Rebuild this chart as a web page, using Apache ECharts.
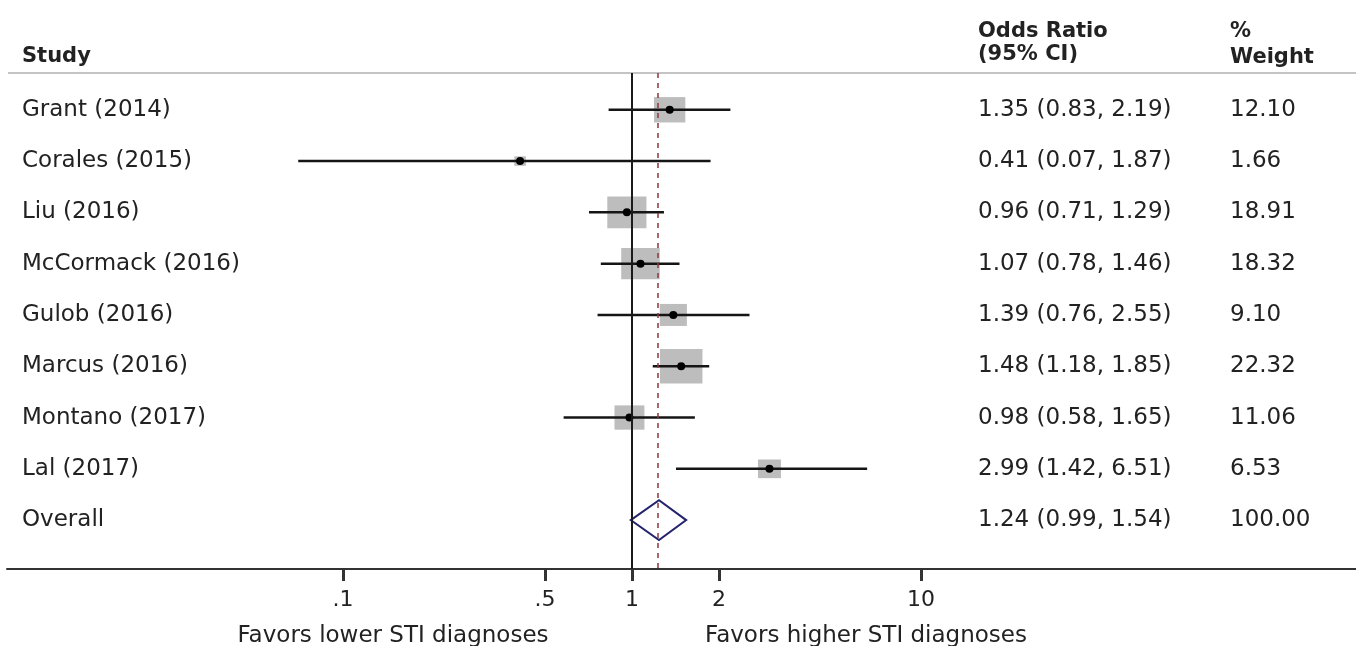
<!DOCTYPE html>
<html>
<head>
<meta charset="utf-8">
<script src="https://cdn.jsdelivr.net/npm/echarts@6/dist/echarts.min.js"></script>
<style>
  html, body { margin: 0; background: #fff; }
  #chart { width: 1356px; height: 646px; }
</style>
</head>
<body>
<div id="chart"></div>
<script>
// study rows
const studies = ['Grant (2014)', 'Corales (2015)', 'Liu (2016)', 'McCormack (2016)',
  'Gulob (2016)', 'Marcus (2016)', 'Montano (2017)', 'Lal (2017)'];
const oddsRatios = [1.35, 0.41, 0.96, 1.07, 1.39, 1.48, 0.98, 2.99];
const lowerCI = [0.83, 0.07, 0.71, 0.78, 0.76, 1.18, 0.58, 1.42];
const upperCI = [2.19, 1.87, 1.29, 1.46, 2.55, 1.85, 1.65, 6.51];
const weights = [12.10, 1.66, 18.91, 18.32, 9.10, 22.32, 11.06, 6.53];

// pooled estimate
const overallOR = 1.24;
const overallCI = [0.99, 1.54];
const overallWeight = 100.00;

// x axis ticks
const tickValues = [0.1, 0.5, 1, 2, 10];
const tickLabels = ['.1', '.5', '1', '2', '10'];

const FONT = '23px "DejaVu Sans", sans-serif';
const BOLD = 'bold 21px "DejaVu Sans", sans-serif';
const TXT = '#222';

const Y_MIN = -0.717, Y_MAX = 8.953;

const fmt = v => v.toFixed(2);
const lg = Math.log10;

const rows = oddsRatios.map((or, i) => [lg(or), i, lg(lowerCI[i]), lg(upperCI[i]), weights[i]]);

function txt(x, y, s, font, align) {
  return {
    type: 'text', x: x, y: y,
    style: { text: s, font: font || FONT, fill: TXT, align: align || 'left', verticalAlign: 'middle' }
  };
}

const chart = echarts.init(document.getElementById('chart'));

chart.setOption({
  animation: false,
  grid: { left: 7, right: 0, top: 73, bottom: 77 },
  xAxis: {
    type: 'value',
    min: -2.1626,
    max: 2.5052,
    splitLine: { show: false },
    axisLine: { show: true, onZero: false, lineStyle: { color: '#333', width: 2 } },
    axisTick: {
      show: true, length: 12, customValues: tickValues.map(lg),
      lineStyle: { color: '#333', width: 3 }
    },
    axisLabel: {
      customValues: tickValues.map(lg),
      margin: 20,
      fontSize: 22,
      fontFamily: 'DejaVu Sans',
      color: '#222',
      formatter: v => {
        const k = tickValues.findIndex(t => Math.abs(lg(t) - v) < 1e-6);
        return k >= 0 ? tickLabels[k] : '';
      }
    }
  },
  yAxis: { type: 'value', inverse: true, min: Y_MIN, max: Y_MAX, show: false },
  graphic: [
    { type: 'line', shape: { x1: 8, y1: 73, x2: 1356, y2: 73 }, style: { stroke: '#c4c4c4', lineWidth: 2 } },
    txt(22, 57, 'Study', BOLD),
    txt(978, 32, 'Odds Ratio', BOLD),
    txt(978, 55, '(95% CI)', BOLD),
    txt(1230, 32, '%', BOLD),
    txt(1230, 58, 'Weight', BOLD),
    txt(393, 636, 'Favors lower STI diagnoses', FONT, 'center'),
    txt(866, 636, 'Favors higher STI diagnoses', FONT, 'center')
  ],
  series: [
    {
      type: 'custom',
      data: rows,
      silent: true,
      renderItem: (params, api) => {
        const i = api.value(1);
        const c = api.coord([api.value(0), i]);
        const l = api.coord([api.value(2), i]);
        const h = api.coord([api.value(3), i]);
        const w = api.value(4);
        // box area follows the study weight
        const bw = 9.0 * Math.sqrt(w), bh = 7.3 * Math.sqrt(w);
        return {
          type: 'group',
          children: [
            { type: 'rect', shape: { x: c[0] - bw / 2, y: c[1] - bh / 2, width: bw, height: bh },
              style: { fill: '#bdbdbd' } },
            { type: 'line', shape: { x1: l[0], y1: l[1], x2: h[0], y2: h[1] },
              style: { stroke: '#151515', lineWidth: 2.5 } },
            { type: 'circle', shape: { cx: c[0], cy: c[1], r: 4 }, style: { fill: '#000' } },
            txt(22, c[1], studies[i]),
            txt(978, c[1], fmt(oddsRatios[i]) + ' (' + fmt(lowerCI[i]) + ', ' + fmt(upperCI[i]) + ')'),
            txt(1230, c[1], fmt(weights[i]))
          ]
        };
      },
      markLine: {
        silent: true,
        symbol: 'none',
        label: { show: false },
        data: [
          { xAxis: 0, lineStyle: { color: '#1a1a1a', width: 2, type: 'solid' } },
          { xAxis: lg(overallOR), lineStyle: { color: '#8b3a3a', width: 1.5, type: [5, 5] } }
        ]
      }
    },
    {
      type: 'custom',
      data: [[lg(overallOR), 8, lg(overallCI[0]), lg(overallCI[1])]],
      silent: true,
      renderItem: (params, api) => {
        const y = api.value(1);
        const c = api.coord([api.value(0), y]);
        const l = api.coord([api.value(2), y]);
        const h = api.coord([api.value(3), y]);
        return {
          type: 'group',
          children: [
            { type: 'polygon',
              shape: { points: [[l[0], c[1]], [c[0], c[1] - 20], [h[0], c[1]], [c[0], c[1] + 20]] },
              style: { fill: 'none', stroke: '#24246e', lineWidth: 2 } },
            txt(22, c[1], 'Overall'),
            txt(978, c[1], fmt(overallOR) + ' (' + fmt(overallCI[0]) + ', ' + fmt(overallCI[1]) + ')'),
            txt(1230, c[1], fmt(overallWeight))
          ]
        };
      }
    }
  ]
});
</script>
</body>
</html>
